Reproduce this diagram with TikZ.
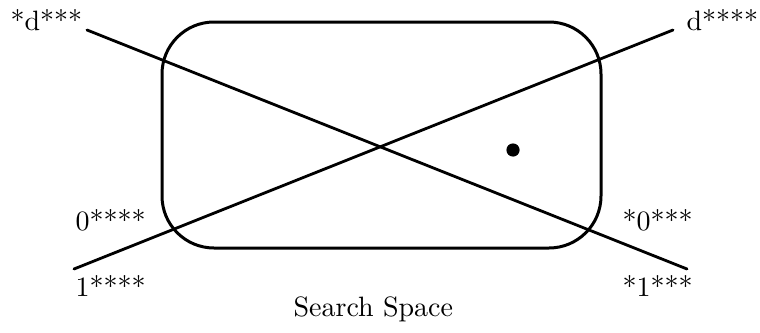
\documentclass[tikz,border=0pt]{standalone}
\begin{document}
\begin{tikzpicture}[x=0.5pt,y=-0.5pt,
  lbl/.style={font=\fontsize{10}{12}\selectfont, scale=1.4, inner sep=0pt, anchor=base west},
  ln/.style={line width=1.4pt, line cap=round}]
\useasboundingbox (0,0) rectangle (760,332);
\node[draw, line width=1.5pt, rounded corners=26pt, minimum width=219.5pt, minimum height=113pt, inner sep=0pt] (space) at (381.5,135) {};
\coordinate (a1) at (87,30);
\coordinate (a2) at (687,269);
\coordinate (b1) at (74,269);
\coordinate (b2) at (673,30);
\draw[ln] (a1) -- (a2);
\draw[ln] (b1) -- (b2);
\fill (513,150) circle[radius=3.3pt] node (dot) {};
\node[lbl] (l1) at (10,30) {*d***};
\node[lbl] (l2) at (686,30) {d****};
\node[lbl] (l3) at (75,230) {0****};
\node[lbl] (l4) at (75,296) {1****};
\node[lbl] (l5) at (622,230) {*0***};
\node[lbl] (l6) at (622,296) {*1***};
\node[lbl] (l7) at (293,316) {Search Space};
\end{tikzpicture}
\end{document}
